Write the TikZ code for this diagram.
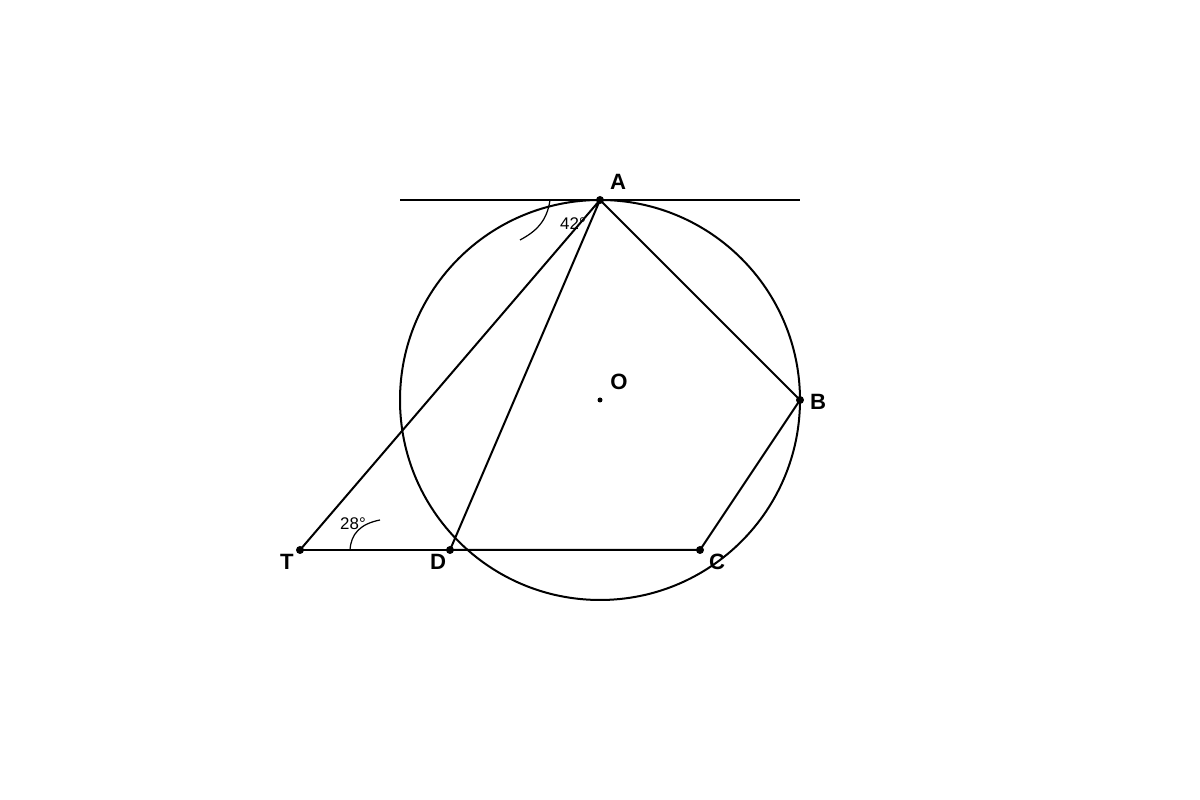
\documentclass[tikz,border=0pt]{standalone}
\usepackage{fontspec}
\setmainfont{Liberation Sans}
\colorlet{myline}{black}

\begin{document}
\begin{tikzpicture}
\useasboundingbox (0,0) rectangle (12,8);
\tikzset{PointLabel/.style ={font=\fontsize{6.3}{7}\selectfont\bfseries, inner sep=0},
         AngleLabel/.style ={font=\fontsize{4.8}{6}\selectfont, inner sep=0},
         Seg/.style ={draw=myline, line width=0.57pt},
         Dot/.style ={fill=myline}}
\coordinate (O) at (6,4);
\coordinate (A) at (6,6);
\coordinate (B) at (8,4);
\coordinate (C) at (7,2.5);
\coordinate (D) at (4.5,2.5);
\coordinate (T) at (3,2.5);
\coordinate (tl) at (4,6);
\coordinate (tr) at (8,6);
\draw[Seg] (O) circle (2);
\draw[Seg] (tl) -- (tr);
\draw[Seg] (T) -- (A) -- (B) -- (C) -- (D) -- (A);
\draw[Seg] (T) -- (D);
\draw[myline, line width=0.35pt] (5.5,6) .. controls (5.47,5.78) and (5.35,5.68) .. (5.2,5.6);
\draw[myline, line width=0.35pt] (3.5,2.5) .. controls (3.51,2.66) and (3.6,2.76) .. (3.8,2.8);
\foreach \p in {A,B,C,D,T} \fill[Dot] (\p) circle (0.04);
\fill[Dot] (O) circle (0.025);
\node[PointLabel] (labA) at (6.18,6.18) {A};
\node[PointLabel] (labO) at (6.19,4.18) {O};
\node[PointLabel] (labB) at (8.18,3.98) {B};
\node[PointLabel] (labC) at (7.17,2.38) {C};
\node[PointLabel] (labD) at (4.38,2.38) {D};
\node[PointLabel] (labT) at (2.87,2.38) {T};
\node[AngleLabel] (ang42) at (5.73,5.76) {42°};
\node[AngleLabel] (ang28) at (3.53,2.76) {28°};
\end{tikzpicture}
\end{document}
